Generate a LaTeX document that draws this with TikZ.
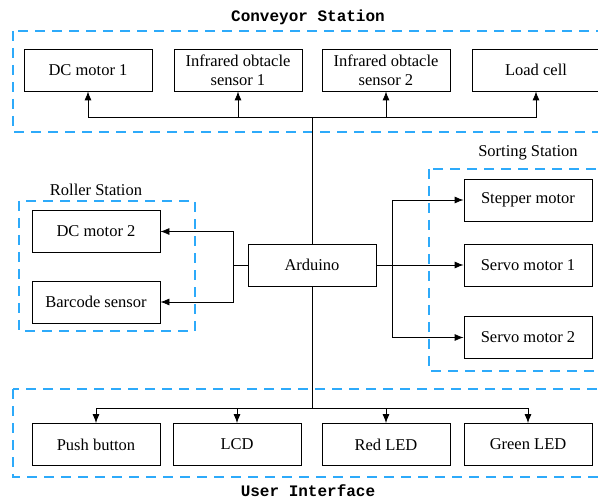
\documentclass[tikz,border=0pt]{standalone}
\usepackage{fontspec}
\setmainfont{Liberation Serif}
\newfontfamily\titlefont{Liberation Mono}
\usetikzlibrary{arrows.meta}
\definecolor{groupblue}{RGB}{45,170,250}
\tikzset{
    block/.style={draw,thick,minimum width=128pt,minimum height=42pt,
        inner sep=0pt,align=center,font=\fontsize{16.5}{19}\selectfont},
    group/.style={draw=groupblue,line width=1.5pt,dash pattern=on 10pt off 7pt},
    grouplabel/.style={font=\fontsize{16.5}{19}\selectfont},
    titlelabel/.style={font=\titlefont\bfseries\fontsize{16}{18}\selectfont},
    link/.style={-{Latex[length=9pt,width=7pt]}},
}
\begin{document}
\begin{tikzpicture}[x=1pt,y=-1pt,thick]
        \useasboundingbox (0,0) rectangle (598,500);
        \clip (0,0) rectangle (598,500);

        \draw[group] (13,31) rectangle (608,132);
        \draw[group] (19,201) rectangle (195,331);
        \draw[group] (429,169) rectangle (608,371);
        \draw[group] (13,389) rectangle (608,477);

        \node[titlelabel] (conveyor) at (308,17) {Conveyor Station};
        \node[grouplabel] (roller) at (96,190) {Roller Station};
        \node[grouplabel] (sorting) at (528,153) {Sorting Station};
        \node[titlelabel] (ui) at (308,491) {User Interface};

        \begin{scope}[every node/.style={block}]
            \node (dcA) at (88,70) {DC motor 1};
            \node (irA) at (238,70) {Infrared obtacle\\sensor 1};
            \node (irB) at (386,70) {Infrared obtacle\\sensor 2};
            \node (load) at (536,70) {Load cell};
            \node (dcB) at (96,231.5) {DC motor 2};
            \node (barcode) at (96,302) {Barcode sensor};
            \node (ard) at (312,265) {Arduino};
            \node (stepper) at (528,200) {Stepper motor};
            \node (servoA) at (528,265) {Servo motor 1};
            \node (servoB) at (528,337.5) {Servo motor 2};
            \node (push) at (96,444.5) {Push button};
            \node (lcd) at (237,444.5) {LCD};
            \node (red) at (386,444.5) {Red LED};
            \node (green) at (528,444.5) {Green LED};
        \end{scope}

        \coordinate (topbus) at (312,117);
        \coordinate (lowbus) at (312,408);
        \coordinate (leftbus) at (233,265);
        \coordinate (rightbus) at (392,265);

        \draw (ard) -- (topbus);
        \draw[link] (topbus) -| (dcA);
        \draw[link] (topbus) -| (irA);
        \draw[link] (topbus) -| (irB);
        \draw[link] (topbus) -| (load);

        \draw (ard) -- (lowbus);
        \draw[link] (lowbus) -| (push);
        \draw[link] (lowbus) -| (lcd);
        \draw[link] (lowbus) -| (red);
        \draw[link] (lowbus) -| (green);

        \draw (ard) -- (leftbus);
        \draw[link] (leftbus) |- (dcB);
        \draw[link] (leftbus) |- (barcode);

        \draw (ard) -- (rightbus);
        \draw[link] (rightbus) |- (stepper);
        \draw[link] (rightbus) -- (servoA);
        \draw[link] (rightbus) |- (servoB);
    \end{tikzpicture}
\end{document}
